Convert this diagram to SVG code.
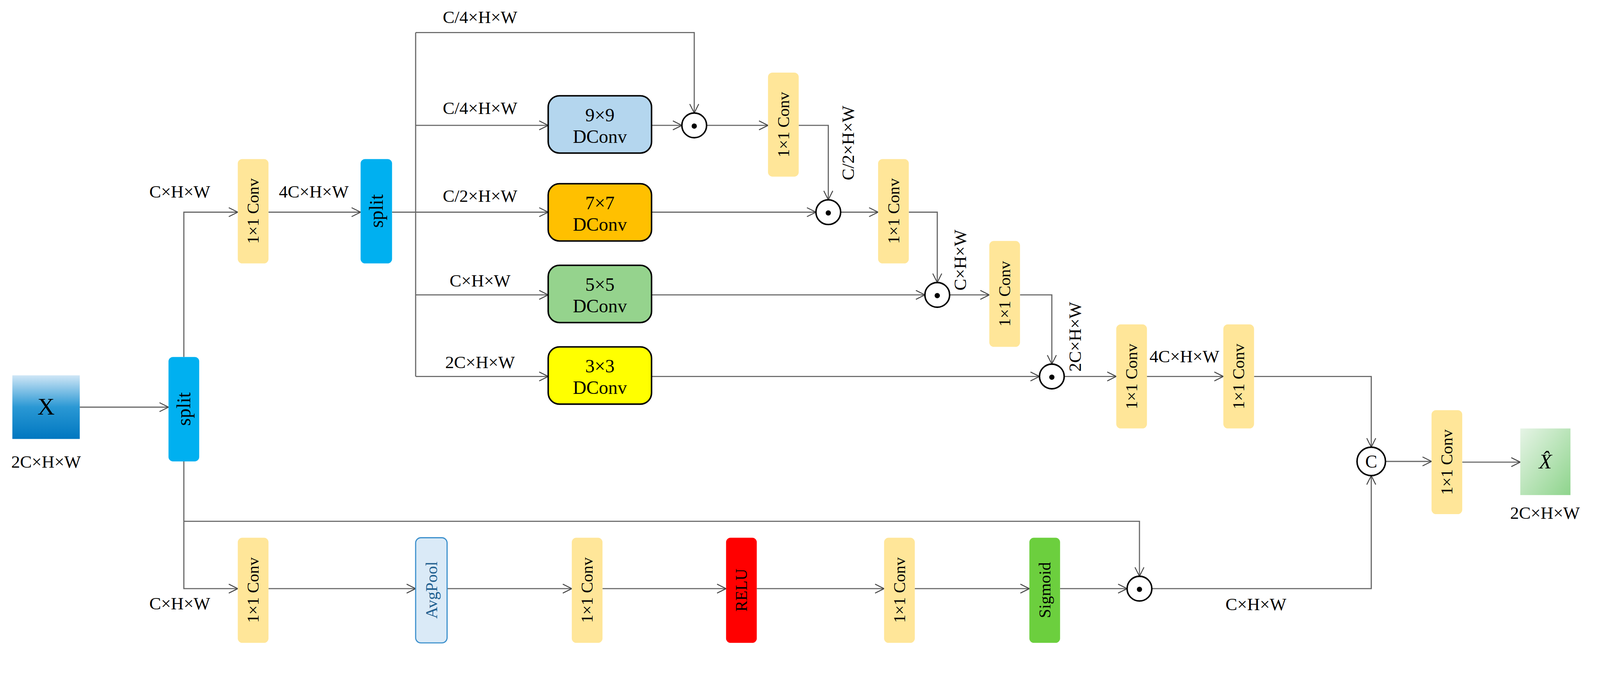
<svg xmlns="http://www.w3.org/2000/svg" width="4276" height="1765" viewBox="0 0 4276 1765">
<defs>
<marker id="a" markerWidth="30" markerHeight="30" refX="26" refY="15" orient="auto" markerUnits="userSpaceOnUse"><path d="M2,3 L26,15 L2,27" fill="none" stroke="#444" stroke-width="2.5"/></marker>
<linearGradient id="gx" x1="0" y1="0" x2="0" y2="1"><stop offset="0" stop-color="#cfe6f6"/><stop offset="0.5" stop-color="#2a98d4"/><stop offset="1" stop-color="#0077c0"/></linearGradient>
<linearGradient id="gy" x1="0" y1="0" x2="1" y2="1"><stop offset="0" stop-color="#e6f4e6"/><stop offset="1" stop-color="#8ed48c"/></linearGradient>
<style>
text{font-family:"Liberation Serif","Times New Roman",serif;fill:#000}
.l{font-size:47px}
.c{font-size:44px}
.d{font-size:50px}
.s{font-size:52px}
.conv{fill:#FFE699}
.ln{fill:none;stroke:#666;stroke-width:3}
.dc{stroke:#000;stroke-width:4}
.od{fill:#fff;stroke:#000;stroke-width:4}
</style>
</defs>
<g transform="scale(0.9586)">
<g id="connectors">
<path class="ln" d="M213,1088 H450" marker-end="url(#a)"/>
<path class="ln" d="M491,954 V567 H635" marker-end="url(#a)"/>
<path class="ln" d="M717,567 H963" marker-end="url(#a)"/>
<path class="ln" d="M1047,567 H1110"/>
<path class="ln" d="M1110,87 V1006"/>
<path class="ln" d="M1110,87 H1854 V302" marker-end="url(#a)"/>
<path class="ln" d="M1110,335 H1464" marker-end="url(#a)"/>
<path class="ln" d="M1110,567 H1464" marker-end="url(#a)"/>
<path class="ln" d="M1110,788 H1464" marker-end="url(#a)"/>
<path class="ln" d="M1110,1006 H1464" marker-end="url(#a)"/>
<path class="ln" d="M1740,335 H1821" marker-end="url(#a)"/>
<path class="ln" d="M1887,335 H2051" marker-end="url(#a)"/>
<path class="ln" d="M2133,335 H2212 V534" marker-end="url(#a)"/>
<path class="ln" d="M1740,567 H2179" marker-end="url(#a)"/>
<path class="ln" d="M2245,567 H2345" marker-end="url(#a)"/>
<path class="ln" d="M2427,567 H2503 V755" marker-end="url(#a)"/>
<path class="ln" d="M1740,788 H2470" marker-end="url(#a)"/>
<path class="ln" d="M2536,788 H2642" marker-end="url(#a)"/>
<path class="ln" d="M2724,788 H2809 V973" marker-end="url(#a)"/>
<path class="ln" d="M1740,1006 H2776" marker-end="url(#a)"/>
<path class="ln" d="M2842,1006 H2981" marker-end="url(#a)"/>
<path class="ln" d="M3063,1006 H3267" marker-end="url(#a)"/>
<path class="ln" d="M3349,1006 H3662 V1195" marker-end="url(#a)"/>
<path class="ln" d="M3700,1233 H3823" marker-end="url(#a)"/>
<path class="ln" d="M3905,1235 H4060" marker-end="url(#a)"/>
<path class="ln" d="M491,1233 V1573 H635" marker-end="url(#a)"/>
<path class="ln" d="M491,1393 H3043 V1540" marker-end="url(#a)"/>
<path class="ln" d="M717,1573 H1110" marker-end="url(#a)"/>
<path class="ln" d="M1194,1573 H1527" marker-end="url(#a)"/>
<path class="ln" d="M1609,1573 H1939" marker-end="url(#a)"/>
<path class="ln" d="M2021,1573 H2361" marker-end="url(#a)"/>
<path class="ln" d="M2443,1573 H2749" marker-end="url(#a)"/>
<path class="ln" d="M2831,1573 H3010" marker-end="url(#a)"/>
<path class="ln" d="M3076,1573 H3662 V1271" marker-end="url(#a)"/>
</g>
<g id="labels">
<text class="l" x="123" y="1250" text-anchor="middle">2C×H×W</text>
<text class="l" x="480" y="528" text-anchor="middle">C×H×W</text>
<text class="l" x="838" y="528" text-anchor="middle">4C×H×W</text>
<text class="l" x="1282" y="62" text-anchor="middle">C/4×H×W</text>
<text class="l" x="1282" y="305" text-anchor="middle">C/4×H×W</text>
<text class="l" x="1282" y="539" text-anchor="middle">C/2×H×W</text>
<text class="l" x="1282" y="766" text-anchor="middle">C×H×W</text>
<text class="l" x="1282" y="984" text-anchor="middle">2C×H×W</text>
<text class="l" transform="translate(2280,382) rotate(-90)" text-anchor="middle">C/2×H×W</text>
<text class="l" transform="translate(2580,695) rotate(-90)" text-anchor="middle">C×H×W</text>
<text class="l" transform="translate(2886,900) rotate(-90)" text-anchor="middle">2C×H×W</text>
<text class="l" x="3163" y="968" text-anchor="middle">4C×H×W</text>
<text class="l" x="4126" y="1386" text-anchor="middle">2C×H×W</text>
<text class="l" x="480" y="1628" text-anchor="middle">C×H×W</text>
<text class="l" x="3354" y="1630" text-anchor="middle">C×H×W</text>
</g>
<g id="X"><rect x="33" y="1003" width="180" height="170" fill="url(#gx)"/><text x="123" y="1108" font-size="64" text-anchor="middle">X</text></g>
<g id="split1"><rect x="450" y="954" width="82" height="279" rx="12" fill="#00B0F0"/><text class="s" transform="translate(508,1093) rotate(-90)" text-anchor="middle">split</text></g>
<g id="conv1"><rect class="conv" x="635" y="425" width="82" height="279" rx="12"/><text class="c" transform="translate(691,564) rotate(-90)" text-anchor="middle">1×1 Conv</text></g>
<g id="split2"><rect x="963" y="425" width="84" height="279" rx="12" fill="#00B0F0"/><text class="s" transform="translate(1022,564) rotate(-90)" text-anchor="middle">split</text></g>
<g id="d9"><rect class="dc" x="1464" y="256" width="276" height="153" rx="30" fill="#B4D6EE"/><text class="d" x="1602" y="324" text-anchor="middle">9×9</text><text class="d" x="1602" y="382" text-anchor="middle">DConv</text></g>
<g id="d7"><rect class="dc" x="1464" y="491" width="276" height="153" rx="30" fill="#FFC000"/><text class="d" x="1602" y="559" text-anchor="middle">7×7</text><text class="d" x="1602" y="617" text-anchor="middle">DConv</text></g>
<g id="d5"><rect class="dc" x="1464" y="709" width="276" height="153" rx="30" fill="#95D38D"/><text class="d" x="1602" y="777" text-anchor="middle">5×5</text><text class="d" x="1602" y="835" text-anchor="middle">DConv</text></g>
<g id="d3"><rect class="dc" x="1464" y="927" width="276" height="153" rx="30" fill="#FFFF00"/><text class="d" x="1602" y="995" text-anchor="middle">3×3</text><text class="d" x="1602" y="1053" text-anchor="middle">DConv</text></g>
<g id="o1"><circle class="od" cx="1854" cy="335" r="33"/><circle cx="1854" cy="337" r="7"/></g>
<g id="o2"><circle class="od" cx="2212" cy="567" r="33"/><circle cx="2212" cy="569" r="7"/></g>
<g id="o3"><circle class="od" cx="2503" cy="788" r="33"/><circle cx="2503" cy="790" r="7"/></g>
<g id="o4"><circle class="od" cx="2809" cy="1006" r="33"/><circle cx="2809" cy="1008" r="7"/></g>
<g id="o5"><circle class="od" cx="3043" cy="1573" r="33"/><circle cx="3043" cy="1575" r="7"/></g>
<g id="conv2"><rect class="conv" x="2051" y="194" width="82" height="278" rx="12"/><text class="c" transform="translate(2107,333) rotate(-90)" text-anchor="middle">1×1 Conv</text></g>
<g id="conv3"><rect class="conv" x="2345" y="425" width="82" height="279" rx="12"/><text class="c" transform="translate(2401,564) rotate(-90)" text-anchor="middle">1×1 Conv</text></g>
<g id="conv4"><rect class="conv" x="2642" y="644" width="82" height="283" rx="12"/><text class="c" transform="translate(2698,785) rotate(-90)" text-anchor="middle">1×1 Conv</text></g>
<g id="conv5"><rect class="conv" x="2981" y="867" width="82" height="278" rx="12"/><text class="c" transform="translate(3037,1006) rotate(-90)" text-anchor="middle">1×1 Conv</text></g>
<g id="conv6"><rect class="conv" x="3267" y="867" width="82" height="278" rx="12"/><text class="c" transform="translate(3323,1006) rotate(-90)" text-anchor="middle">1×1 Conv</text></g>
<g id="cat"><circle class="od" cx="3662" cy="1233" r="38"/><text x="3662" y="1250" font-size="48" text-anchor="middle">C</text></g>
<g id="conv7"><rect class="conv" x="3823" y="1096" width="82" height="278" rx="12"/><text class="c" transform="translate(3879,1235) rotate(-90)" text-anchor="middle">1×1 Conv</text></g>
<g id="Xhat"><rect x="4060" y="1145" width="134" height="178" fill="url(#gy)"/><text x="4127" y="1252" font-size="56" font-style="italic" text-anchor="middle">X̂</text></g>
<g id="conv8"><rect class="conv" x="635" y="1437" width="82" height="281" rx="12"/><text class="c" transform="translate(691,1577) rotate(-90)" text-anchor="middle">1×1 Conv</text></g>
<g id="avgpool"><rect x="1110" y="1437" width="84" height="281" rx="14" fill="#DAEAF7" stroke="#3A8FCC" stroke-width="3"/><text class="c" transform="translate(1167,1577) rotate(-90)" text-anchor="middle" style="fill:#1F5F8F">AvgPool</text></g>
<g id="conv9"><rect class="conv" x="1527" y="1437" width="82" height="281" rx="12"/><text class="c" transform="translate(1583,1577) rotate(-90)" text-anchor="middle">1×1 Conv</text></g>
<g id="relu"><rect x="1939" y="1437" width="82" height="281" rx="12" fill="#FF0000"/><text class="c" transform="translate(1995,1577) rotate(-90)" text-anchor="middle">RELU</text></g>
<g id="conv10"><rect class="conv" x="2361" y="1437" width="82" height="281" rx="12"/><text class="c" transform="translate(2417,1577) rotate(-90)" text-anchor="middle">1×1 Conv</text></g>
<g id="sigmoid"><rect x="2749" y="1437" width="82" height="281" rx="12" fill="#6CCF3E"/><text class="c" transform="translate(2805,1577) rotate(-90)" text-anchor="middle">Sigmoid</text></g>
</g>
</svg>
